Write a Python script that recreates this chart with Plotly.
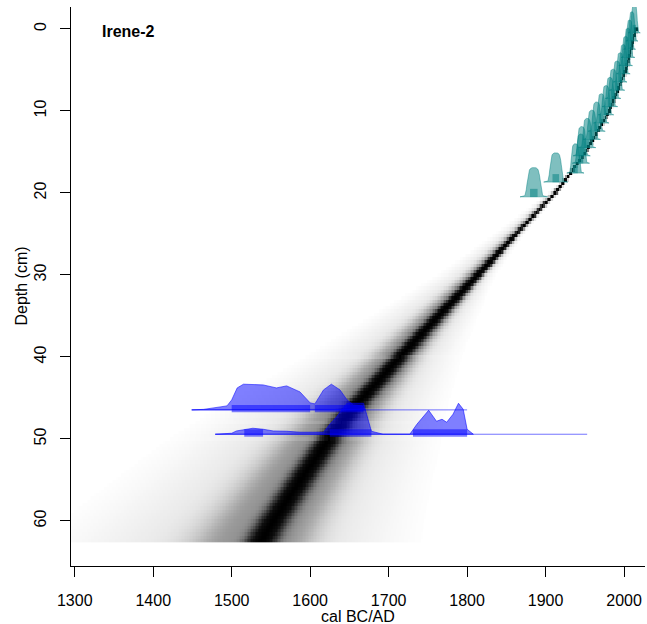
import numpy as np
import plotly.graph_objects as go

# ---------------- data ----------------
# age-depth model (median path)
model_depth = [0, 5, 10, 15, 17.5, 20, 25, 30, 35, 40, 43, 46.5, 50, 55, 60, 62.7]
model_age = [2015, 2002, 1981, 1951, 1932, 1912, 1862, 1813, 1763, 1714, 1686, 1652, 1624, 1588, 1553, 1536]

# spread of the grey age-model cloud (years)
spread_depth = [0, 18, 25, 30, 40, 50, 62.7]
core_sd = [1.0, 1.5, 2.5, 4.5, 8, 11, 14]
left_tail = [2, 3, 30, 55, 130, 220, 310]
right_tail = [2, 3, 12, 25, 85, 155, 220]

# 210Pb-derived ages (teal)
pb_depth = [0.5, 1.5, 2.5, 3.5, 4.5, 5.5, 6.5, 7.5, 8.5, 9.5, 10.5, 11.5, 12.5, 13.5, 14.5, 15.5, 16.4, 17.6, 18.7, 20.5]
pb_age = [2013, 2010, 2007, 2005, 2002, 1999, 1995, 1991, 1986, 1982, 1977, 1971, 1965, 1959, 1953, 1946, 1945, 1938, 1913, 1885]
pb_sd = [3.5, 3.5, 3.5, 4, 4, 4, 4, 4.5, 4.5, 4.5, 4.5, 4.5, 5, 5, 5, 5, 5, 5, 7, 8]

# 14C calibrated dates (blue)
date1_depth = 46.46
date1_age = [1449, 1464, 1494, 1500, 1507, 1515, 1540, 1557, 1570, 1587, 1600, 1606, 1617, 1627, 1638, 1647, 1655, 1666, 1670]
date1_prob = [0, 0.5, 4, 10, 22, 25.7, 25, 22, 24, 18, 7, 6, 20, 25.7, 20, 10, 5, 4, 0]
date1_line = [1449, 1800]
date1_hpd = [[1500, 1600], [1606, 1668]]

date2_depth = 49.43
date2_age = [1479, 1500, 1506, 1517, 1527, 1540, 1553, 1570, 1587, 1617, 1625, 1634, 1647, 1668, 1674, 1678, 1693,
             1727, 1736, 1751, 1761, 1768, 1774, 1782, 1789, 1795, 1800, 1808]
date2_prob = [0, 1, 3.3, 5, 6, 5, 3.3, 3, 2, 2, 10, 17.7, 31, 31, 15, 3, 0,
              0, 10, 24, 13, 15, 12, 20, 31, 25, 5, 0]
date2_line = [1479, 1953]
date2_hpd = [[1516, 1540], [1625, 1678], [1731, 1800]]

x_ticks = [1300, 1400, 1500, 1600, 1700, 1800, 1900, 2000]
y_ticks = [0, 10, 20, 30, 40, 50, 60]
core_name = "Irene-2"

# ---------------- styles ----------------
FONT = "Liberation Sans, Arial, sans-serif"
PX_PER_CM = 8.2
TEAL_FILL = "rgba(0,128,128,0.5)"
TEAL_LINE = "rgba(0,128,128,0.55)"
BLUE_FILL = "rgba(0,0,255,0.5)"
BLUE_LINE = "rgba(0,0,255,0.55)"

fig = go.Figure()

# ---------------- grey age-model cloud ----------------
years = np.arange(1288, 2032, 2.0)
depths = np.arange(0.0, 62.7 + 1e-9, 0.4)
Z = []
for d in depths:
    m = np.interp(d, model_depth, model_age)
    sc = np.interp(d, spread_depth, core_sd)
    L = np.interp(d, spread_depth, left_tail)
    R = np.interp(d, spread_depth, right_tail)
    core = np.exp(-0.5 * ((years - m) / sc) ** 2)
    lsh = 0.3 * np.exp(-0.5 * ((years - (m - 0.15 * L)) / (0.1 * L + 1)) ** 2)
    rsh = 0.28 * np.exp(-0.5 * ((years - (m + 0.18 * R)) / (0.1 * R + 1)) ** 2)
    ul = np.clip((m - years) / L, 0, None)
    ur = np.clip((years - m) / R, 0, None)
    lt = np.where((years <= m) & (ul <= 1), 0.18 * (1 - ul) ** 1.3, 0)
    rt = np.where((years >= m) & (ur <= 1), 0.18 * (1 - ur) ** 1.3, 0)
    tot = core + lsh + rsh + lt + rt
    tot = tot / tot.max()
    row = [None if v < 0.004 else round(float(v), 3) for v in tot]
    Z.append(row)

fig.add_trace(go.Heatmap(
    x=years, y=depths, z=Z, zmin=0, zmax=1, showscale=False, hoverinfo="skip",
    colorscale=[[0, "rgb(255,255,255)"], [0.05, "rgb(238,238,238)"], [0.2, "rgb(196,196,196)"],
                [0.4, "rgb(130,130,130)"], [0.6, "rgb(60,60,60)"], [0.8, "rgb(15,15,15)"], [1, "rgb(0,0,0)"]],
))

# ---------------- blue calibrated dates ----------------
def add_date(depth, ages, probs, line, hpd):
    ys = [depth - p / PX_PER_CM for p in probs]
    fig.add_trace(go.Scatter(x=line, y=[depth, depth], mode="lines",
                             line=dict(color=BLUE_LINE, width=1), hoverinfo="skip", showlegend=False))
    fig.add_trace(go.Scatter(x=list(ages) + [ages[-1], ages[0]], y=ys + [depth, depth], mode="lines",
                             fill="toself", fillcolor=BLUE_FILL, line=dict(color=BLUE_LINE, width=1),
                             hoverinfo="skip", showlegend=False))
    for a0, a1 in hpd:
        fig.add_trace(go.Scatter(x=[a0, a1, a1, a0, a0],
                                 y=[depth - 0.6, depth - 0.6, depth + 0.3, depth + 0.3, depth - 0.6],
                                 mode="lines", fill="toself", fillcolor=BLUE_FILL,
                                 line=dict(color="rgba(0,0,255,0)", width=0),
                                 hoverinfo="skip", showlegend=False))

add_date(date1_depth, date1_age, date1_prob, date1_line, date1_hpd)
add_date(date2_depth, date2_age, date2_prob, date2_line, date2_hpd)

# ---------------- teal 210Pb ages ----------------
t = np.linspace(-2.2, 2.2, 45)
H = 3.6
prof = 0.85 * np.exp(-0.5 * np.abs(t / 1.0) ** 6) + 0.15 * np.exp(-0.5 * (t / 0.9) ** 2)
for d, a, s in zip(pb_depth, pb_age, pb_sd):
    xs = a + s * t
    ys = d - H * prof
    fig.add_trace(go.Scatter(x=list(xs) + [xs[0]], y=list(ys) + [ys[0]], mode="lines", fill="toself",
                             fillcolor=TEAL_FILL, line=dict(color=TEAL_LINE, width=0.8),
                             hoverinfo="skip", showlegend=False))
    fig.add_trace(go.Scatter(x=[a - 0.6 * s, a + 0.6 * s, a + 0.6 * s, a - 0.6 * s, a - 0.6 * s],
                             y=[d, d, d - 1, d - 1, d], mode="lines", fill="toself", fillcolor=TEAL_FILL,
                             line=dict(color="rgba(0,0,0,0)", width=0), hoverinfo="skip", showlegend=False))

# ---------------- layout ----------------
fig.update_layout(
    width=647, height=624,
    margin=dict(l=71, r=2, t=7, b=58, pad=0),
    plot_bgcolor="white", paper_bgcolor="white",
    font=dict(family=FONT, size=16, color="black"),
    showlegend=False,
    xaxis=dict(range=[1295.2, 2026.7], tickvals=x_ticks, ticks="outside", ticklen=10, tickwidth=1,
               tickcolor="black", showline=True, linecolor="black", linewidth=1, showgrid=False,
               zeroline=False, tickfont=dict(size=16, family=FONT), ticklabelstandoff=10),
    yaxis=dict(range=[65.5, -2.68], tickvals=y_ticks, ticks="outside", ticklen=10, tickwidth=1,
               tickcolor="black", showline=True, linecolor="black", linewidth=1, showgrid=False,
               zeroline=False, tickangle=-90, tickfont=dict(size=16, family=FONT),
               ticklabelstandoff=8, layer="below traces"),
    annotations=[
        dict(text="<b>" + core_name + "</b>", xref="paper", yref="paper", x=0.05, y=0.957,
             xanchor="left", yanchor="middle", showarrow=False, font=dict(size=16, family=FONT)),
        dict(text="cal BC/AD", xref="paper", yref="paper", x=0.5, y=-0.0912,
             xanchor="center", yanchor="middle", showarrow=False, font=dict(size=16, family=FONT)),
        dict(text="Depth (cm)", xref="paper", yref="paper", x=-0.087, y=0.5, textangle=-90,
             xanchor="center", yanchor="middle", showarrow=False, font=dict(size=16, family=FONT)),
    ],
)

fig.write_html("out.html")
